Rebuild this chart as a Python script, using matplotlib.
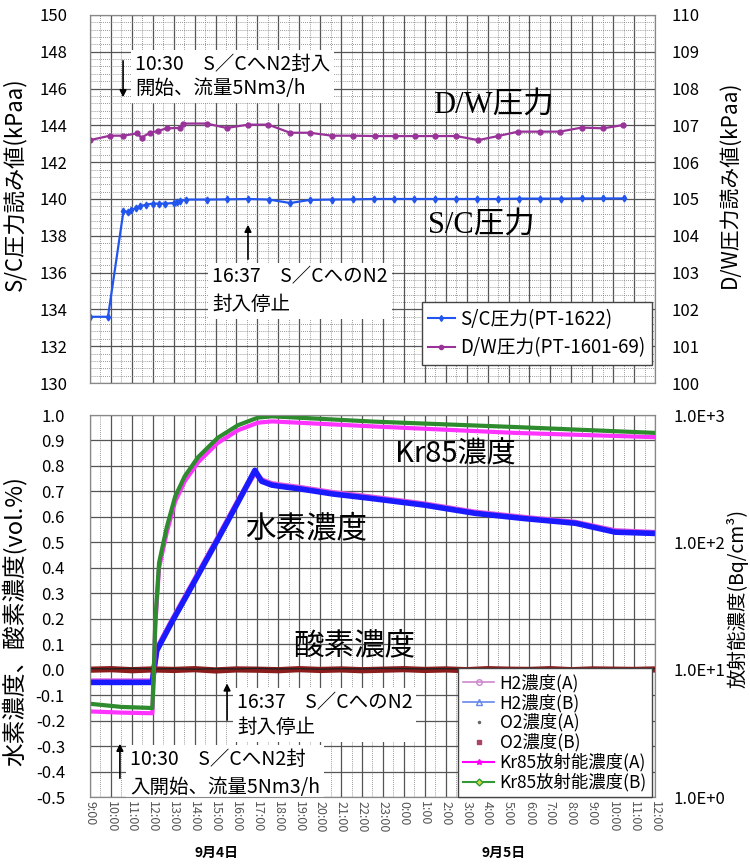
import matplotlib
matplotlib.use('Agg')
import matplotlib.pyplot as plt
from matplotlib.lines import Line2D
from matplotlib.ticker import MultipleLocator, FixedLocator, FormatStrFormatter

plt.rcParams['font.family'] = ['Noto Sans CJK JP', 'DejaVu Sans']

# 時刻は 9/4 9:00 からの経過時間 [h]
hour_labels = [f"{(9 + h) % 24}:00" for h in range(28)]

# 上段: S/C圧力 (左軸 kPaa)
sc_t = [0.0, 0.86, 1.6, 1.82, 1.98, 2.2, 2.39, 2.7, 3.0, 3.3, 3.6, 4.0, 4.15, 4.3, 4.6,
        5.6, 6.55, 7.55, 8.55, 9.57, 10.5, 11.55, 12.55, 13.55, 14.55, 15.5, 16.5,
        17.5, 18.5, 19.5, 20.5, 21.5, 22.5, 23.5, 24.5, 25.5]
sc_v = [133.6, 133.6, 139.35, 139.3, 139.4, 139.5, 139.6, 139.7, 139.75, 139.75, 139.75,
        139.78, 139.85, 139.9, 139.97, 139.97, 139.98, 140.0, 139.97, 139.78, 139.95,
        139.97, 139.98, 140.0, 140.0, 140.0, 140.0, 140.0, 140.0, 140.0, 140.02,
        140.02, 140.02, 140.03, 140.03, 140.03]

# 上段: D/W圧力 (右軸 kPaa)
dw_t = [0.0, 0.96, 1.6, 2.23, 2.47, 2.87, 3.26, 3.66, 4.3, 4.46, 5.57, 6.53, 7.56,
        8.52, 9.56, 10.51, 11.55, 12.58, 13.6, 14.57, 15.53, 16.48, 17.5, 18.55,
        19.5, 20.46, 21.5, 22.46, 23.49, 24.53, 25.48]
dw_v = [106.6, 106.72, 106.72, 106.78, 106.67, 106.8, 106.85, 106.92, 106.93, 107.05,
        107.05, 106.93, 107.02, 107.02, 106.8, 106.8, 106.72, 106.72, 106.71, 106.71,
        106.71, 106.71, 106.71, 106.6, 106.71, 106.83, 106.83, 106.83, 106.94, 106.92,
        107.01]

# 下段: 水素濃度 (vol.%)
h2_t = [0.0, 1.0, 2.0, 2.98, 3.05, 3.19, 3.9, 5.02, 6.13, 7.09, 7.88, 8.2, 8.68, 9.08,
        10.03, 11.6, 13.38, 16.0, 18.4, 20.8, 23.2, 25.1, 27.0]
h2a_v = [-0.045, -0.045, -0.045, -0.045, 0.0, 0.08, 0.19, 0.355, 0.52, 0.665, 0.775,
         0.745, 0.73, 0.725, 0.715, 0.695, 0.678, 0.65, 0.618, 0.597, 0.578, 0.545, 0.538]
h2b_v = [-0.05, -0.05, -0.05, -0.05, -0.005, 0.075, 0.185, 0.35, 0.515, 0.66, 0.783,
         0.74, 0.725, 0.72, 0.71, 0.69, 0.673, 0.646, 0.614, 0.593, 0.575, 0.54, 0.535]

# 下段: 酸素濃度 (vol.%)
o2_t = [0, 1, 2, 3, 4, 5, 6, 7, 8, 9, 10, 11, 12, 13, 14, 15, 16, 17, 18, 19, 20, 21,
        22, 23, 24, 25, 26, 27]
o2a_v = [0.004, 0.003, 0.005, 0.003, 0.004, 0.002, 0.004, 0.003, 0.005, 0.003, 0.004,
         0.002, 0.004, 0.003, 0.005, 0.004, 0.003, 0.004, 0.002, 0.004, 0.003, 0.005,
         0.003, 0.004, 0.002, 0.004, 0.003, 0.004]
o2b_v = [0.0, 0.002, -0.002, 0.001, -0.001, 0.002, -0.003, 0.001, 0.0, -0.002, 0.002,
         -0.001, 0.001, -0.002, 0.0, 0.002, -0.001, 0.001, -0.002, 0.002, 0.0, -0.001,
         0.002, -0.002, 0.001, 0.0, -0.001, 0.001]

# 下段: Kr85放射能濃度 (Bq/cm3, 右軸 対数)
kr_t = [0.0, 1.5, 2.98, 3.05, 3.12, 3.3, 3.67, 4.07, 4.53, 5.17, 6.1, 7.07, 8.03, 8.7,
        13.6, 20.3, 27.0]
kra_v = [4.7, 4.6, 4.55, 9.0, 22.0, 63.0, 120.0, 209.0, 302.0, 427.0, 603.0, 759.0,
         871.0, 891.0, 813.0, 724.0, 670.0]
krb_v = [5.4, 5.1, 5.0, 10.0, 24.0, 69.0, 132.0, 229.0, 331.0, 468.0, 661.0, 832.0,
         955.0, 977.0, 887.0, 805.0, 724.0]


def style_axes(ax, ymin, ymax, ystep, yminor=None):
    ax.set_xlim(0, 27)
    ax.set_ylim(ymin, ymax)
    ax.xaxis.set_major_locator(MultipleLocator(1))
    ax.xaxis.set_minor_locator(MultipleLocator(0.5))
    ax.yaxis.set_major_locator(MultipleLocator(ystep))
    ax.grid(which='major', color='#555555', lw=0.9)
    ax.grid(which='minor', axis='x', color='#777777', lw=0.6, ls=(0, (1, 1.5)))
    if yminor:
        ax.yaxis.set_minor_locator(MultipleLocator(yminor))
        ax.grid(which='minor', axis='y', color='#777777', lw=0.6, ls=(0, (1, 1.5)))
    ax.tick_params(which='both', length=0)
    ax.set_axisbelow(True)
    for s in ax.spines.values():
        s.set_color('#888888')


fig = plt.figure(figsize=(7.5, 8.65), dpi=100)

# ---------------- 上段 ----------------
ax1 = fig.add_axes([0.12, 0.5572, 0.7533, 0.4255])
style_axes(ax1, 130, 150, 2, 0.4)
ax1.set_xticklabels([])
ax1.tick_params(axis='y', labelsize=12, pad=16)
ax1.plot(sc_t, sc_v, color='#2255ee', lw=1.6, marker='d', ms=3.5)
ax1.set_ylabel('S/C圧力読み値(kPaa)', fontsize=16)
ax1.yaxis.set_label_coords(-0.113, 0.54)

ax1r = ax1.twinx()
ax1r.set_ylim(100, 110)
ax1r.yaxis.set_major_locator(MultipleLocator(1))
ax1r.tick_params(length=0, labelsize=12, pad=12)
ax1r.plot(dw_t, dw_v, color='#993399', lw=1.6, marker='o', ms=3.5)
ax1r.set_ylabel('D/W圧力読み値(kPaa)', fontsize=15)
ax1r.yaxis.set_label_coords(1.113, 0.54)
for s in ax1r.spines.values():
    s.set_color('#888888')

ax1.text(16.4, 145.1, 'D/W圧力', fontsize=22, va='center',
         family=['Liberation Serif', 'Noto Sans CJK JP'])
ax1.text(16.15, 138.6, 'S/C圧力', fontsize=22, va='center',
         family=['Liberation Serif', 'Noto Sans CJK JP'])

ax1.annotate('', xy=(1.58, 145.38), xytext=(1.58, 147.66),
             arrowprops=dict(arrowstyle='-|>', color='black', lw=1.2))
ax1.text(2.15, 146.66, '10:30　S／CへN2封入\n開始、流量5Nm3/h', fontsize=14,
         va='center', linespacing=1.2,
         bbox=dict(boxstyle='square,pad=0.2', fc='white', ec='none'))
ax1.annotate('', xy=(7.55, 138.75), xytext=(7.55, 136.58),
             arrowprops=dict(arrowstyle='-|>', color='black', lw=1.2))
ax1.text(5.83, 135.0, '16:37　S／CへのN2\n封入停止', fontsize=14,
         va='center', linespacing=1.4,
         bbox=dict(boxstyle='square,pad=0.2', fc='white', ec='none'))

h_top = [Line2D([], [], color='#2255ee', lw=1.5, marker='d', ms=3),
         Line2D([], [], color='#993399', lw=1.5, marker='o', ms=3)]
leg1 = ax1r.legend(h_top, ['S/C圧力(PT-1622)', 'D/W圧力(PT-1601-69)'],
                   loc='lower right', bbox_to_anchor=(0.9947, 0.049), borderaxespad=0,
                   fontsize=13.5, handlelength=1.4, handletextpad=0.3, labelspacing=0.4,
                   fancybox=False, framealpha=1, borderpad=0.35)
leg1.get_frame().set_edgecolor('#444444')

# ---------------- 下段 ----------------
ax2 = fig.add_axes([0.12, 0.0786, 0.7533, 0.4416])
style_axes(ax2, -0.5, 1.0, 0.1)
ax2.set_xticks(range(28))
ax2.set_xticklabels(hour_labels, rotation=-90, fontsize=9, color='#555555')
ax2.tick_params(axis='x', pad=3)
ax2.tick_params(axis='y', labelsize=12, pad=18)
ax2.yaxis.set_major_formatter(FormatStrFormatter('%.1f'))

ax2.plot(h2_t, h2a_v, color='#dd55dd', lw=4)
ax2.plot(h2_t, h2b_v, color='#1a1aff', lw=4)
ax2.plot(o2_t, o2b_v, color='#8b1c1c', lw=4.5)
ax2.plot(o2_t, o2a_v, color='#222222', lw=1)
ax2.set_ylabel('水素濃度、酸素濃度(vol.%)', fontsize=17)
ax2.yaxis.set_label_coords(-0.112, 0.46)

ax2r = ax2.twinx()
ax2r.set_yscale('log')
ax2r.set_ylim(1, 1000)
ax2r.yaxis.set_major_locator(FixedLocator([1, 10, 100, 1000]))
ax2r.yaxis.set_minor_locator(FixedLocator([]))
ax2r.set_yticklabels(['1.0E+0', '1.0E+1', '1.0E+2', '1.0E+3'])
ax2r.tick_params(length=0, labelsize=12, pad=13)
ax2r.plot(kr_t, kra_v, color='#ff33ff', lw=3)
ax2r.plot(kr_t, krb_v, color='#2e8b2e', lw=3)
ax2r.set_ylabel('放射能濃度(Bq/cm³)', fontsize=14)
ax2r.yaxis.set_label_coords(1.126, 0.52)
for s in ax2r.spines.values():
    s.set_color('#888888')

ax2.text(14.57, 0.843, 'Kr85濃度', fontsize=21, va='center')
ax2.text(7.4, 0.555, '水素濃度', fontsize=22, va='center')
ax2.text(9.7, 0.094, '酸素濃度', fontsize=22, va='center')

ax2.annotate('', xy=(6.55, -0.043), xytext=(6.55, -0.209),
             arrowprops=dict(arrowstyle='-|>', color='black', lw=1.2))
ax2.text(7.02, -0.179, '16:37　S／CへのN2\n封入停止', fontsize=14,
         va='center', linespacing=1.25,
         bbox=dict(boxstyle='square,pad=0.2', fc='white', ec='none'))
ax2.annotate('', xy=(1.43, -0.28), xytext=(1.43, -0.437),
             arrowprops=dict(arrowstyle='-|>', color='black', lw=1.2))
ax2.text(1.91, -0.407, '10:30　S／CへN2封\n入開始、流量5Nm3/h', fontsize=14,
         va='center', linespacing=1.45,
         bbox=dict(boxstyle='square,pad=0.2', fc='white', ec='none'))

h_bot = [Line2D([], [], color='#cc88cc', lw=1.2, marker='o', mfc='none', ms=4),
         Line2D([], [], color='#6688ee', lw=1.2, marker='^', mfc='none', ms=4),
         Line2D([], [], ls='none', color='#666666', marker='.', ms=3),
         Line2D([], [], ls='none', color='#aa4466', marker='s', ms=2.5),
         Line2D([], [], color='#ff00ff', lw=1.5, marker='*', ms=4),
         Line2D([], [], color='#339933', lw=1.5, marker='D', mfc='#ccdd44', ms=3.5)]
leg2 = ax2r.legend(h_bot, ['H2濃度(A)', 'H2濃度(B)', 'O2濃度(A)', 'O2濃度(B)',
                           'Kr85放射能濃度(A)', 'Kr85放射能濃度(B)'],
                   loc='lower right', bbox_to_anchor=(0.9947, 0.0), borderaxespad=0,
                   fontsize=12.5, handlelength=1.8, handletextpad=0.3, labelspacing=0.08,
                   fancybox=False, framealpha=1, borderpad=0.3)
leg2.get_frame().set_edgecolor('#444444')

fig.text(0.289, 0.0139, '9月4日', fontsize=10, ha='center', va='center', weight='bold')
fig.text(0.671, 0.0139, '9月5日', fontsize=10, ha='center', va='center', weight='bold')

fig.savefig('out.png', dpi=100)
